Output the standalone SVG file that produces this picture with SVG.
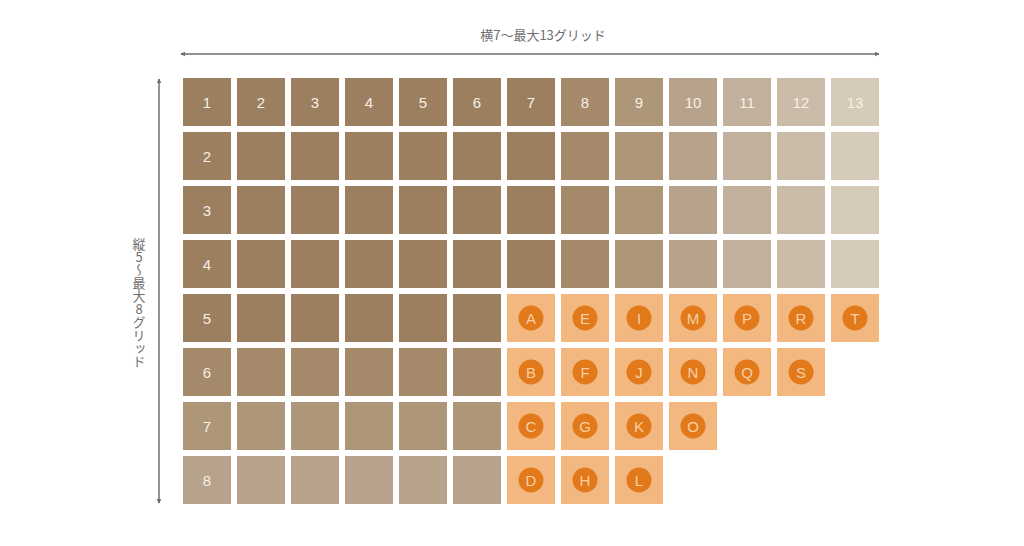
<svg xmlns="http://www.w3.org/2000/svg" width="1024" height="546" viewBox="0 0 1024 546">
<defs>
<style>
.c0{fill:#9b7f5f}.c1{fill:#a4896b}.c2{fill:#ae9779}.c3{fill:#b7a38b}.c4{fill:#c1b09b}.c5{fill:#cabca8}.c6{fill:#d6cab8}.co{fill:#f2b880}
.n{font-family:"Liberation Sans",Arial,sans-serif;font-size:15px;fill:#f6efe6;text-anchor:middle;dominant-baseline:central}
.dot{fill:#e2791a}
.l{font-family:"Liberation Sans",Arial,sans-serif;font-size:15px;fill:#f8cfa6;text-anchor:middle;dominant-baseline:central}
.lab{font-family:"Noto Sans CJK JP","Noto Sans",sans-serif;font-size:13px;fill:#6e6e6e}
.ax{stroke:#6e6e6e;stroke-width:1.5;fill:none}
</style>
<marker id="ah" viewBox="0 0 8 8" refX="7" refY="4" markerWidth="5" markerHeight="5" orient="auto-start-reverse" markerUnits="userSpaceOnUse">
<path d="M0,0 L8,4 L0,8 z" fill="#6e6e6e"/>
</marker>
</defs>
<rect width="1024" height="546" fill="#ffffff"/>
<g id="connectors">
<line class="ax" x1="181" y1="54" x2="879" y2="54" marker-start="url(#ah)" marker-end="url(#ah)"/>
<line class="ax" x1="159" y1="79" x2="159" y2="503" marker-start="url(#ah)" marker-end="url(#ah)"/>
</g>
<g id="label-h"><text class="lab" x="543" y="40" text-anchor="middle">横7〜最大13グリッド</text></g>
<g id="label-v"><text class="lab" x="139" y="238" style="writing-mode:vertical-rl;text-orientation:upright">縦5〜最大8グリッド</text></g>
<g id="row1">
<rect class="c0" x="183" y="78" width="48" height="48"/><text class="n" x="207" y="102">1</text>
<rect class="c0" x="237" y="78" width="48" height="48"/><text class="n" x="261" y="102">2</text>
<rect class="c0" x="291" y="78" width="48" height="48"/><text class="n" x="315" y="102">3</text>
<rect class="c0" x="345" y="78" width="48" height="48"/><text class="n" x="369" y="102">4</text>
<rect class="c0" x="399" y="78" width="48" height="48"/><text class="n" x="423" y="102">5</text>
<rect class="c0" x="453" y="78" width="48" height="48"/><text class="n" x="477" y="102">6</text>
<rect class="c0" x="507" y="78" width="48" height="48"/><text class="n" x="531" y="102">7</text>
<rect class="c1" x="561" y="78" width="48" height="48"/><text class="n" x="585" y="102">8</text>
<rect class="c2" x="615" y="78" width="48" height="48"/><text class="n" x="639" y="102">9</text>
<rect class="c3" x="669" y="78" width="48" height="48"/><text class="n" x="693" y="102">10</text>
<rect class="c4" x="723" y="78" width="48" height="48"/><text class="n" x="747" y="102">11</text>
<rect class="c5" x="777" y="78" width="48" height="48"/><text class="n" x="801" y="102">12</text>
<rect class="c6" x="831" y="78" width="48" height="48"/><text class="n" x="855" y="102">13</text>
</g>
<g id="rows2-4">
<rect class="c0" x="183" y="132" width="48" height="48"/><text class="n" x="207" y="156">2</text>
<rect class="c0" x="237" y="132" width="48" height="48"/><rect class="c0" x="291" y="132" width="48" height="48"/><rect class="c0" x="345" y="132" width="48" height="48"/><rect class="c0" x="399" y="132" width="48" height="48"/><rect class="c0" x="453" y="132" width="48" height="48"/><rect class="c0" x="507" y="132" width="48" height="48"/><rect class="c1" x="561" y="132" width="48" height="48"/><rect class="c2" x="615" y="132" width="48" height="48"/><rect class="c3" x="669" y="132" width="48" height="48"/><rect class="c4" x="723" y="132" width="48" height="48"/><rect class="c5" x="777" y="132" width="48" height="48"/><rect class="c6" x="831" y="132" width="48" height="48"/>
<rect class="c0" x="183" y="186" width="48" height="48"/><text class="n" x="207" y="210">3</text>
<rect class="c0" x="237" y="186" width="48" height="48"/><rect class="c0" x="291" y="186" width="48" height="48"/><rect class="c0" x="345" y="186" width="48" height="48"/><rect class="c0" x="399" y="186" width="48" height="48"/><rect class="c0" x="453" y="186" width="48" height="48"/><rect class="c0" x="507" y="186" width="48" height="48"/><rect class="c1" x="561" y="186" width="48" height="48"/><rect class="c2" x="615" y="186" width="48" height="48"/><rect class="c3" x="669" y="186" width="48" height="48"/><rect class="c4" x="723" y="186" width="48" height="48"/><rect class="c5" x="777" y="186" width="48" height="48"/><rect class="c6" x="831" y="186" width="48" height="48"/>
<rect class="c0" x="183" y="240" width="48" height="48"/><text class="n" x="207" y="264">4</text>
<rect class="c0" x="237" y="240" width="48" height="48"/><rect class="c0" x="291" y="240" width="48" height="48"/><rect class="c0" x="345" y="240" width="48" height="48"/><rect class="c0" x="399" y="240" width="48" height="48"/><rect class="c0" x="453" y="240" width="48" height="48"/><rect class="c0" x="507" y="240" width="48" height="48"/><rect class="c1" x="561" y="240" width="48" height="48"/><rect class="c2" x="615" y="240" width="48" height="48"/><rect class="c3" x="669" y="240" width="48" height="48"/><rect class="c4" x="723" y="240" width="48" height="48"/><rect class="c5" x="777" y="240" width="48" height="48"/><rect class="c6" x="831" y="240" width="48" height="48"/>
</g>
<g id="rows5-8">
<rect class="c0" x="183" y="294" width="48" height="48"/><text class="n" x="207" y="318">5</text>
<rect class="c0" x="237" y="294" width="48" height="48"/><rect class="c0" x="291" y="294" width="48" height="48"/><rect class="c0" x="345" y="294" width="48" height="48"/><rect class="c0" x="399" y="294" width="48" height="48"/><rect class="c0" x="453" y="294" width="48" height="48"/>
<rect class="c1" x="183" y="348" width="48" height="48"/><text class="n" x="207" y="372">6</text>
<rect class="c1" x="237" y="348" width="48" height="48"/><rect class="c1" x="291" y="348" width="48" height="48"/><rect class="c1" x="345" y="348" width="48" height="48"/><rect class="c1" x="399" y="348" width="48" height="48"/><rect class="c1" x="453" y="348" width="48" height="48"/>
<rect class="c2" x="183" y="402" width="48" height="48"/><text class="n" x="207" y="426">7</text>
<rect class="c2" x="237" y="402" width="48" height="48"/><rect class="c2" x="291" y="402" width="48" height="48"/><rect class="c2" x="345" y="402" width="48" height="48"/><rect class="c2" x="399" y="402" width="48" height="48"/><rect class="c2" x="453" y="402" width="48" height="48"/>
<rect class="c3" x="183" y="456" width="48" height="48"/><text class="n" x="207" y="480">8</text>
<rect class="c3" x="237" y="456" width="48" height="48"/><rect class="c3" x="291" y="456" width="48" height="48"/><rect class="c3" x="345" y="456" width="48" height="48"/><rect class="c3" x="399" y="456" width="48" height="48"/><rect class="c3" x="453" y="456" width="48" height="48"/>
</g>
<g id="orange">
<g id="A"><rect class="co" x="507" y="294" width="48" height="48"/><circle class="dot" cx="531" cy="318" r="12.5"/><text class="l" x="531" y="318">A</text></g>
<g id="B"><rect class="co" x="507" y="348" width="48" height="48"/><circle class="dot" cx="531" cy="372" r="12.5"/><text class="l" x="531" y="372">B</text></g>
<g id="C"><rect class="co" x="507" y="402" width="48" height="48"/><circle class="dot" cx="531" cy="426" r="12.5"/><text class="l" x="531" y="426">C</text></g>
<g id="D"><rect class="co" x="507" y="456" width="48" height="48"/><circle class="dot" cx="531" cy="480" r="12.5"/><text class="l" x="531" y="480">D</text></g>
<g id="E"><rect class="co" x="561" y="294" width="48" height="48"/><circle class="dot" cx="585" cy="318" r="12.5"/><text class="l" x="585" y="318">E</text></g>
<g id="F"><rect class="co" x="561" y="348" width="48" height="48"/><circle class="dot" cx="585" cy="372" r="12.5"/><text class="l" x="585" y="372">F</text></g>
<g id="G"><rect class="co" x="561" y="402" width="48" height="48"/><circle class="dot" cx="585" cy="426" r="12.5"/><text class="l" x="585" y="426">G</text></g>
<g id="H"><rect class="co" x="561" y="456" width="48" height="48"/><circle class="dot" cx="585" cy="480" r="12.5"/><text class="l" x="585" y="480">H</text></g>
<g id="I"><rect class="co" x="615" y="294" width="48" height="48"/><circle class="dot" cx="639" cy="318" r="12.5"/><text class="l" x="639" y="318">I</text></g>
<g id="J"><rect class="co" x="615" y="348" width="48" height="48"/><circle class="dot" cx="639" cy="372" r="12.5"/><text class="l" x="639" y="372">J</text></g>
<g id="K"><rect class="co" x="615" y="402" width="48" height="48"/><circle class="dot" cx="639" cy="426" r="12.5"/><text class="l" x="639" y="426">K</text></g>
<g id="L"><rect class="co" x="615" y="456" width="48" height="48"/><circle class="dot" cx="639" cy="480" r="12.5"/><text class="l" x="639" y="480">L</text></g>
<g id="M"><rect class="co" x="669" y="294" width="48" height="48"/><circle class="dot" cx="693" cy="318" r="12.5"/><text class="l" x="693" y="318">M</text></g>
<g id="N"><rect class="co" x="669" y="348" width="48" height="48"/><circle class="dot" cx="693" cy="372" r="12.5"/><text class="l" x="693" y="372">N</text></g>
<g id="O"><rect class="co" x="669" y="402" width="48" height="48"/><circle class="dot" cx="693" cy="426" r="12.5"/><text class="l" x="693" y="426">O</text></g>
<g id="P"><rect class="co" x="723" y="294" width="48" height="48"/><circle class="dot" cx="747" cy="318" r="12.5"/><text class="l" x="747" y="318">P</text></g>
<g id="Q"><rect class="co" x="723" y="348" width="48" height="48"/><circle class="dot" cx="747" cy="372" r="12.5"/><text class="l" x="747" y="372">Q</text></g>
<g id="R"><rect class="co" x="777" y="294" width="48" height="48"/><circle class="dot" cx="801" cy="318" r="12.5"/><text class="l" x="801" y="318">R</text></g>
<g id="S"><rect class="co" x="777" y="348" width="48" height="48"/><circle class="dot" cx="801" cy="372" r="12.5"/><text class="l" x="801" y="372">S</text></g>
<g id="T"><rect class="co" x="831" y="294" width="48" height="48"/><circle class="dot" cx="855" cy="318" r="12.5"/><text class="l" x="855" y="318">T</text></g>
</g>
</svg>
